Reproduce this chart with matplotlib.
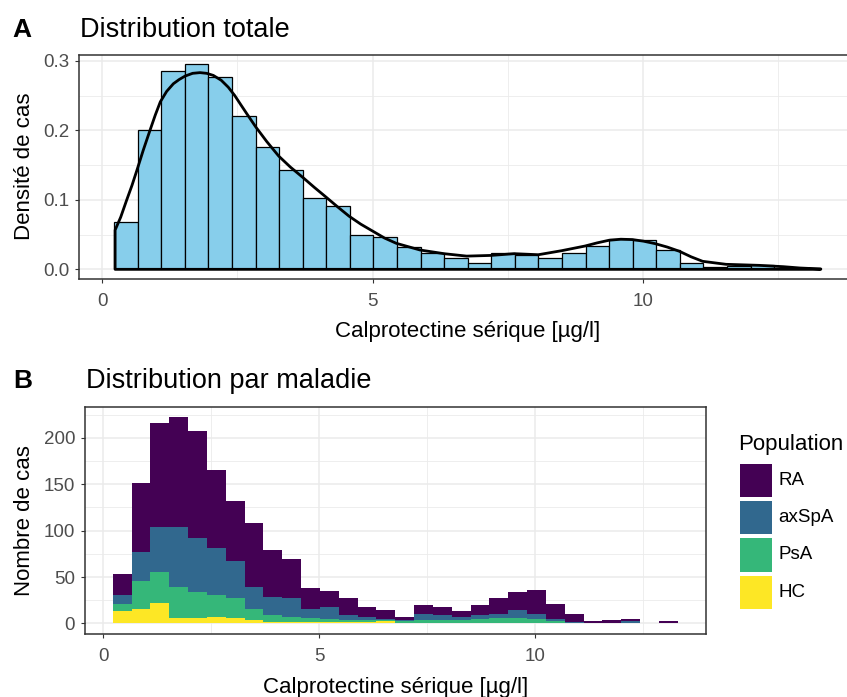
import matplotlib
matplotlib.use("Agg")
import matplotlib.pyplot as plt
from matplotlib.patches import Rectangle
import numpy as np

plt.rcParams["font.family"] = ["Liberation Sans", "DejaVu Sans"]

W, H = 847, 697

# histogram breaks (30 bins, shared by both panels)
bin_start = 0.218
bin_width = 0.436
n_bins = 30

# panel A : density of each bin
density = [0.068, 0.201, 0.285, 0.295, 0.276, 0.220, 0.176, 0.143, 0.103, 0.0915,
           0.049, 0.047, 0.0326, 0.023, 0.017, 0.0086, 0.023, 0.021, 0.016, 0.024,
           0.033, 0.043, 0.042, 0.028, 0.0086, 0.003, 0.005, 0.006, 0.0, 0.002]

# panel A : density curve
curve_x = [0.237, 0.34, 0.451, 0.55, 0.642, 0.76, 0.882, 0.98, 1.073, 1.19,
           1.314, 1.42, 1.530, 1.67, 1.807, 1.93, 2.053, 2.20, 2.33, 2.45,
           2.56, 2.68, 2.837, 3.040, 3.262, 3.48, 3.712, 3.92, 4.137, 4.35,
           4.563, 4.78, 5.000, 5.22, 5.438, 5.876, 6.320, 6.739, 7.189, 7.620,
           8.064, 8.496, 8.927, 9.15, 9.371, 9.59, 9.803, 10.01, 10.222, 10.45,
           10.672, 10.89, 11.104, 11.535, 12.151, 12.595, 12.904, 13.287]
curve_y = [0.0565, 0.075, 0.0997, 0.121, 0.143, 0.172, 0.200, 0.222, 0.241, 0.256,
           0.267, 0.273, 0.278, 0.282, 0.283, 0.282, 0.279, 0.272, 0.262, 0.250,
           0.237, 0.223, 0.205, 0.184, 0.163, 0.147, 0.132, 0.118, 0.104, 0.090,
           0.0765, 0.065, 0.055, 0.045, 0.0374, 0.0278, 0.0225, 0.0190, 0.0200, 0.0225,
           0.0210, 0.0268, 0.0335, 0.038, 0.0418, 0.0433, 0.0428, 0.0405, 0.0370, 0.032,
           0.0260, 0.018, 0.0115, 0.0072, 0.0057, 0.0038, 0.0019, 0.0005]

# panel B : counts per bin and population
populations = ["RA", "axSpA", "PsA", "HC"]
counts_ra = [22, 74, 112, 119, 115, 84, 65, 69, 51, 42,
             23, 17, 18, 11, 9, 3, 10, 9, 6, 11,
             17, 20, 26, 16, 9, 2, 4, 2, 0, 2]
counts_axspa = [10, 31, 49, 65, 58, 50, 40, 23, 19, 20,
                9, 13, 5, 3, 1, 2, 6, 5, 3, 4,
                4, 8, 5, 2, 1, 0, 0, 3, 0, 0]
counts_psa = [8, 30, 33, 33, 28, 24, 21, 12, 8, 6,
              5, 4, 3, 3, 1, 2, 4, 4, 4, 5,
              6, 6, 5, 3, 0, 0, 0, 0, 0, 0]
counts_hc = [13, 16, 22, 6, 6, 7, 6, 4, 1, 1,
             1, 1, 1, 1, 3, 0, 0, 0, 0, 0,
             0, 0, 0, 0, 0, 0, 0, 0, 0, 0]

pop_colors = {"RA": "#440154", "axSpA": "#31688E", "PsA": "#35B779", "HC": "#FDE725"}

bin_left = bin_start + bin_width * np.arange(n_bins)


def fx(x):
    return x / W


def fy(y):
    return 1 - y / H


def add_axes_px(left, top, right, bottom):
    return fig.add_axes([fx(left), fy(bottom), (right - left) / W, (bottom - top) / H])


def style(ax, yticks, yminor, ylabels):
    ax.set_axisbelow(True)
    ax.set_xticks([0, 5, 10])
    ax.set_xticks([2.5, 7.5, 12.5], minor=True)
    ax.set_yticks(yticks)
    ax.set_yticklabels(ylabels)
    ax.set_yticks(yminor, minor=True)
    ax.grid(which="major", color="#EBEBEB", linewidth=1.1)
    ax.grid(which="minor", color="#EBEBEB", linewidth=0.6)
    ax.tick_params(which="major", direction="out", length=2.7, width=0.8,
                   color="#333333", labelcolor="#4D4D4D", labelsize=13.5)
    ax.tick_params(axis="x", which="major", pad=7.5)
    ax.tick_params(axis="y", which="major", pad=4.5)
    ax.tick_params(which="minor", length=0)
    for s in ax.spines.values():
        s.set_color("#333333")
        s.set_linewidth(1.1)


fig = plt.figure(figsize=(W / 100, H / 100), dpi=100)

# ---- panel A
axA = add_axes_px(79, 54.7, 856, 278.7)
axA.bar(bin_left, density, width=bin_width, align="edge", color="#87CEEB",
        edgecolor="black", linewidth=0.9, zorder=2)
px = np.r_[curve_x[0], curve_x, curve_x[-1]]
py = np.r_[0, curve_y, 0]
axA.fill(px, py, facecolor="none", edgecolor="black", linewidth=2.0,
         joinstyle="round", zorder=3)
axA.set_xlim(-0.431, 13.94)
axA.set_ylim(-0.0135, 0.3088)
style(axA, [0, 0.1, 0.2, 0.3], [0.05, 0.15, 0.25], ["0.0", "0.1", "0.2", "0.3"])

fig.text(fx(12), fy(37.3), "A", fontsize=19, fontweight="bold", va="baseline")
fig.text(fx(80), fy(37.3), "Distribution totale", fontsize=19.5, va="baseline")
fig.text(fx(25), fy(166.7), "Densité de cas", fontsize=16, rotation=90,
         ha="center", va="center")
fig.text(fx(467.5), fy(337.3), "Calprotectine sérique [µg/l]", fontsize=16,
         ha="center", va="baseline")

# ---- panel B
axB = add_axes_px(85, 407.3, 706, 634)
stack = {"HC": counts_hc, "PsA": counts_psa, "axSpA": counts_axspa, "RA": counts_ra}
bottom = np.zeros(n_bins)
for pop in ["HC", "PsA", "axSpA", "RA"]:
    vals = np.array(stack[pop], dtype=float)
    axB.bar(bin_left, vals, width=bin_width, bottom=bottom, align="edge",
            color=pop_colors[pop], linewidth=0, zorder=2)
    bottom += vals
axB.set_xlim(-0.424, 13.95)
axB.set_ylim(-11.5, 233.1)
style(axB, [0, 50, 100, 150, 200], [25, 75, 125, 175, 225],
      ["0", "50", "100", "150", "200"])

fig.text(fx(13), fy(388.3), "B", fontsize=19, fontweight="bold", va="baseline")
fig.text(fx(86), fy(388.3), "Distribution par maladie", fontsize=19.5, va="baseline")
fig.text(fx(25), fy(520.5), "Nombre de cas", fontsize=16, rotation=90,
         ha="center", va="center")
fig.text(fx(395.5), fy(692.6), "Calprotectine sérique [µg/l]", fontsize=16,
         ha="center", va="baseline")

# legend
fig.text(fx(738), fy(450), "Population", fontsize=16, va="baseline")
key_tops = [464, 501, 538.3, 575.7]
for pop, top in zip(populations, key_tops):
    fig.add_artist(Rectangle((fx(740), fy(top + 33.3)), 32 / W, 33.3 / H,
                             transform=fig.transFigure, facecolor=pop_colors[pop],
                             edgecolor="none"))
    fig.text(fx(778.3), fy(top + 16.6), pop, fontsize=13.5, va="center")

fig.savefig("out.png", dpi=100)
